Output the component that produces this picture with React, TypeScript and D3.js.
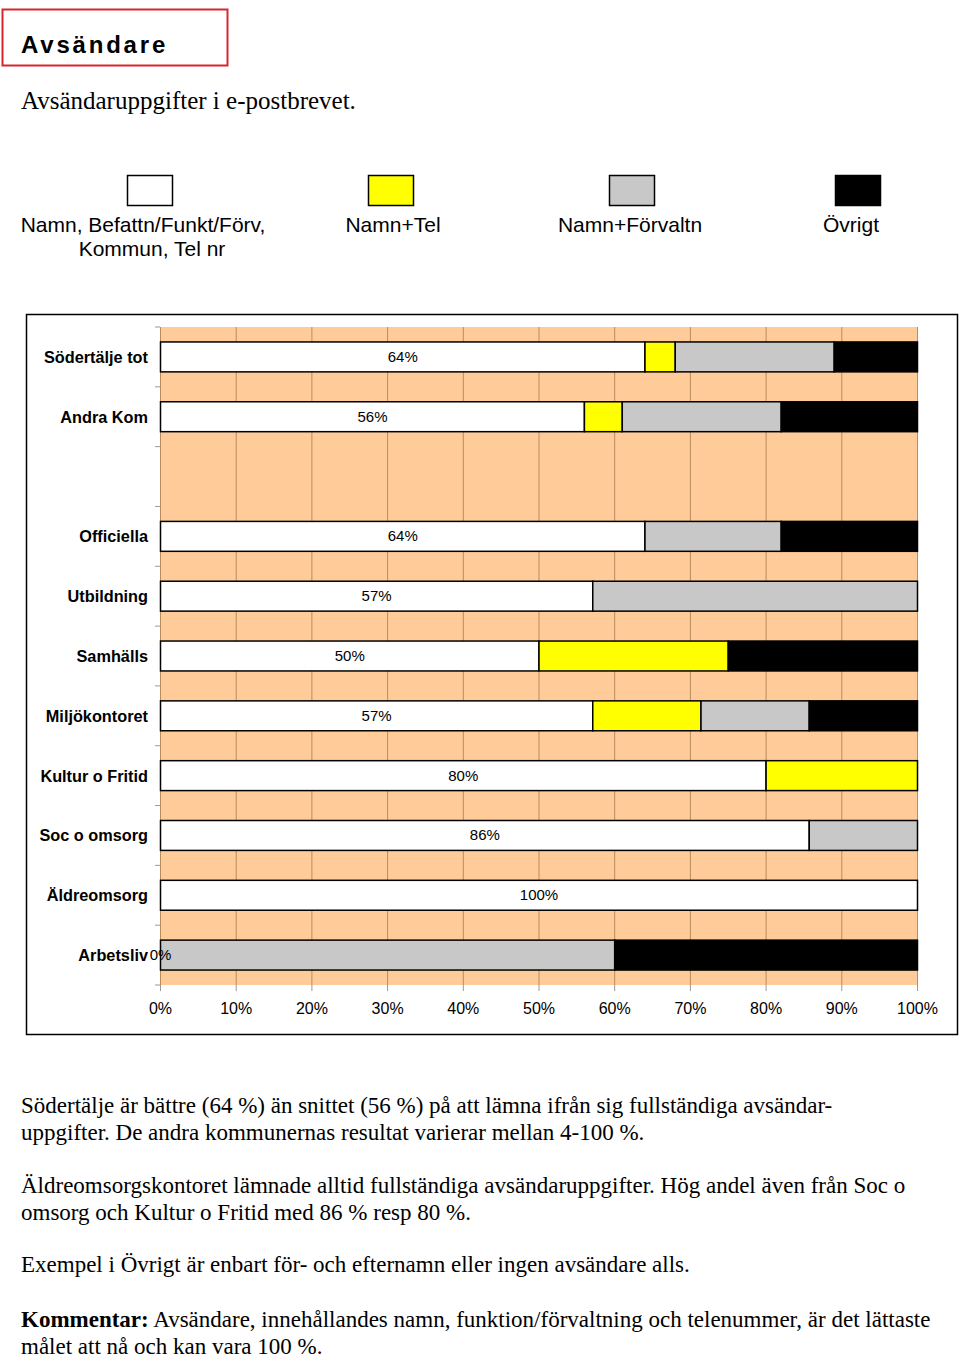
import React from "react";
import * as d3 from "d3";

const categories = ["Södertälje tot", "Andra Kom", "", "Officiella", "Utbildning", "Samhälls", "Miljökontoret", "Kultur o Fritid", "Soc o omsorg", "Äldreomsorg", "Arbetsliv"];
const fullInfo = [64, 56, null, 64, 57.1, 50, 57.1, 80, 85.7, 100, 0];
const namnTel = [4, 5, null, 0, 0, 25, 14.3, 20, 0, 0, 0];
const namnForv = [21, 21, null, 18, 42.9, 0, 14.3, 0, 14.3, 0, 60];
const ovrigt = [11, 18, null, 18, 0, 25, 14.3, 0, 0, 0, 40];
const xTicks = [0, 10, 20, 30, 40, 50, 60, 70, 80, 90, 100];
const seriesNames = ["Namn, Befattn/Funkt/Förv,\nKommun, Tel nr", "Namn+Tel", "Namn+Förvaltn", "Övrigt"];
const seriesColors = ["#FFFFFF", "#FFFF00", "#C8C8C8", "#000000"];

const paragraphs: { lines: (string | { b: string; r: string })[]; y: number }[] = [
  { lines: ["Södertälje är bättre (64 %) än snittet (56 %) på att lämna ifrån sig fullständiga avsändar-", "uppgifter. De andra kommunernas resultat varierar mellan 4-100 %."], y: 1113 },
  { lines: ["Äldreomsorgskontoret lämnade alltid fullständiga avsändaruppgifter. Hög andel även från Soc o", "omsorg och Kultur o Fritid med 86 % resp 80 %."], y: 1193 },
  { lines: ["Exempel i Övrigt är enbart för- och efternamn eller ingen avsändare alls."], y: 1272 },
  { lines: [{ b: "Kommentar:", r: " Avsändare, innehållandes namn, funktion/förvaltning och telenummer, är det lättaste" }, "målet att nå och kan vara 100 %."], y: 1327 },
];

export default function App() {
  const x = d3.scaleLinear().domain([0, 100]).range([160.5, 917.5]);
  const y = d3.scaleBand<number>().domain(categories.map((_, i) => i)).range([327, 985]).paddingInner(0.5).paddingOuter(0.25);
  const series = [fullInfo, namnTel, namnForv, ovrigt];
  const legendBoxX = [150, 391, 632, 858];
  const legendTextX = [[143, 152], [393], [630], [851]];
  const sans = "Arial, 'Liberation Sans', sans-serif";
  const serif = "'Times New Roman', 'Liberation Serif', serif";

  return (
    <svg width={960} height={1357} style={{ position: "absolute", left: 0, top: 0, background: "#fff" }}>
      {/* Title */}
      <rect x={2.5} y={9.5} width={225} height={56} fill="none" stroke="#D8262C" strokeWidth={2} />
      <text x={21} y={53} fontFamily={sans} fontWeight="bold" fontSize={24} letterSpacing={2.8} fill="#000">Avsändare</text>
      <text x={21} y={109} fontFamily={serif} fontSize={25} fill="#000">Avsändaruppgifter i e-postbrevet.</text>

      {/* Legend */}
      {seriesNames.map((name, i) => (
        <g key={i}>
          <rect x={legendBoxX[i] - 22.5} y={175.5} width={45} height={30} fill={seriesColors[i]} stroke="#000" strokeWidth={1.5} />
          {name.split("\n").map((ln, j) => (
            <text key={j} x={legendTextX[i][j]} y={232 + j * 24} textAnchor="middle" fontFamily={sans} fontSize={21} fill="#000">{ln}</text>
          ))}
        </g>
      ))}

      {/* Chart frame */}
      <rect x={26.5} y={314.5} width={931} height={720} fill="#fff" stroke="#000" strokeWidth={1.5} />
      <rect x={x(0) - 0.5} y={327} width={x(100) - x(0) + 0.5} height={658} fill="#FFCC99" />
      {xTicks.map((t) => (
        <g key={t}>
          <line x1={x(t)} x2={x(t)} y1={327} y2={985} stroke="#B98C5E" strokeWidth={1} />
          <line x1={x(t)} x2={x(t)} y1={985} y2={991} stroke="#999" strokeWidth={1} />
          <text x={x(t)} y={1014} textAnchor="middle" fontFamily={sans} fontSize={16} fill="#000">{t}%</text>
        </g>
      ))}
      {categories.map((_, i) => {
        const yy = (y(i) as number) - y.step() * 0.25;
        return <line key={"yt" + i} x1={155} x2={160} y1={yy} y2={yy} stroke="#999" />;
      })}
      <line x1={155} x2={160} y1={985} y2={985} stroke="#999" />

      {/* Bars */}
      {categories.map((c, i) => {
        if (fullInfo[i] === null) return null;
        let acc = 0;
        const by = y(i) as number;
        return (
          <g key={"bar" + i}>
            {series.map((s, k) => {
              const v = s[i] as number;
              const x0 = x(acc);
              acc += v;
              if (v <= 0) return null;
              return <rect key={k} x={x0} y={by} width={x(acc) - x0} height={y.bandwidth()} fill={seriesColors[k]} stroke="#000" strokeWidth={1.5} />;
            })}
          </g>
        );
      })}
      {categories.map((c, i) => {
        const by = (y(i) as number) + y.bandwidth() / 2;
        return (
          <g key={"lab" + i}>
            <text x={148} y={by + 6} textAnchor="end" fontFamily={sans} fontWeight="bold" fontSize={16.3} fill="#000">{c}</text>
            {fullInfo[i] !== null && (
              <text x={x((fullInfo[i] as number) / 2)} y={by + 5} textAnchor="middle" fontFamily={sans} fontSize={15} fill="#000">
                {Math.round(fullInfo[i] as number)}%
              </text>
            )}
          </g>
        );
      })}

      {/* Body text */}
      {paragraphs.map((p, pi) =>
        p.lines.map((ln, li) => (
          <text key={pi + "-" + li} x={21} y={p.y + li * 26.5} fontFamily={serif} fontSize={23} fill="#000">
            {typeof ln === "string" ? ln : (
              <>
                <tspan fontWeight="bold">{ln.b}</tspan>
                <tspan>{ln.r}</tspan>
              </>
            )}
          </text>
        ))
      )}
    </svg>
  );
}
